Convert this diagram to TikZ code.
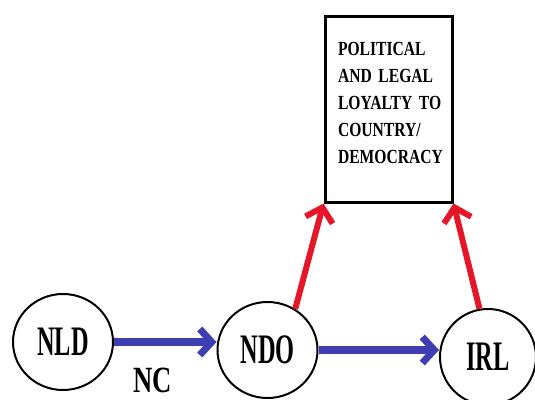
\documentclass[tikz,border=0pt]{standalone}
\usepackage{fontspec}
\setmainfont{Liberation Serif}
\newfontfamily\nodefont[FakeStretch=0.58]{Liberation Serif Bold}
\newfontfamily\ncfont[FakeStretch=0.72]{Liberation Serif Bold}
\newfontfamily\boxfont[FakeStretch=0.78]{Liberation Serif Bold}
\usetikzlibrary{shapes.geometric,arrows.meta}
\definecolor{arrblue}{RGB}{62,62,178}
\definecolor{arrred}{RGB}{228,22,40}
\tikzset{
  state/.style={draw=black, line width=2pt, ellipse, inner sep=0pt,
    minimum width=100pt, minimum height=96pt,
    font=\nodefont\fontsize{42}{42}\selectfont},
  goalbox/.style={draw=black, line width=3pt, rectangle,
    minimum width=127pt, minimum height=186pt, inner xsep=13pt,
    text width=101pt, align=left, text depth=121pt,
    font=\boxfont\fontsize{20}{27}\selectfont},
  bluearrow/.style={draw=arrblue, line width=8pt,
    -{Straight Barb[length=12pt,width=26pt,line width=7pt]}},
  redarrow/.style={draw=arrred, line width=6pt,
    -{Straight Barb[length=13pt,width=28pt,line width=6pt]}},
  lbl/.style={font=\ncfont\fontsize{37}{37}\selectfont, inner sep=0pt}
}
\begin{document}
\begin{tikzpicture}[x=1pt,y=-1pt]
\useasboundingbox (0,0) rectangle (535,399);
\fill[white] (0,0) rectangle (535,399);
\node[goalbox] (goal) at (388.5,109) {POLITICAL\\AND~LEGAL\\LOYALTY~TO\\COUNTRY/\\DEMOCRACY};
\node[state] (nld) at (63,342) {NLD};
\node[state] (ndo) at (267.5,350) {NDO};
\node[state, minimum width=96pt] (irl) at (488,357) {IRL};
\node[lbl] (nc) at (153,380) {NC};
\draw[bluearrow] (nld.east) -- (nld.east -| ndo.west);
\draw[bluearrow] (ndo.east) -- (ndo.east -| irl.west);
\draw[redarrow] (ndo.56) -- (goal.south west);
\draw[redarrow] (irl.100) -- (goal.south east);
\end{tikzpicture}
\end{document}
